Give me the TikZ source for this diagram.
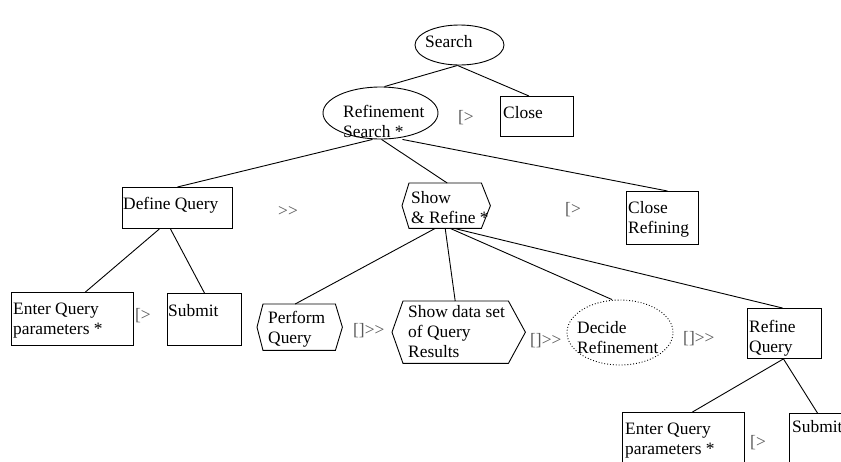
\documentclass[tikz,border=0pt]{standalone}
\usepackage{fontspec}
\setmainfont[Ligatures=TeXOff]{Liberation Serif}
\usetikzlibrary{shapes.geometric}
\tikzset{
  shp/.style={draw, line width=0.9pt},
  boxnode/.style={shp, rectangle, inner sep=0pt, anchor=north west},
  ellnode/.style={shp, ellipse, inner sep=0pt},
  hexnode/.style={rectangle, inner sep=0pt, anchor=north west},
  lbl/.style={inner sep=0pt, align=left, anchor=north west},
  lbl1/.style={inner sep=0pt, anchor=base west},
  opr/.style={inner sep=0pt, anchor=base west, text=black!65},
  conn/.style={line width=0.9pt},
}
\newcommand\hexdraw[3]{\draw[shp] ([xshift=#2]#1.north west) -- ([xshift=-#3]#1.north east) -- (#1.east) -- ([xshift=-#3]#1.south east) -- ([xshift=#2]#1.south west) -- (#1.west) -- cycle;}
\begin{document}
\begin{tikzpicture}[x=1pt, y=-1pt, font=\fontsize{17.4}{20}\selectfont]
\useasboundingbox (0,0) rectangle (841,461);
\fill[white] (0,0) rectangle (841,461);
\clip (0,0) rectangle (841,461);

% ellipses
\node[ellnode, minimum width=89pt, minimum height=40pt] (search) at (459.5,45) {};
\node[ellnode, minimum width=115pt, minimum height=52pt] (refine) at (380.5,113) {};
\node[ellnode, dotted, minimum width=106pt, minimum height=65pt] (decide) at (620,332.5) {};

% boxes
\node[boxnode, minimum width=73pt, minimum height=40pt] (close) at (500,96) {};
\node[boxnode, minimum width=110pt, minimum height=41pt] (defq) at (122,187) {};
\node[boxnode, minimum width=72pt, minimum height=53pt] (closeref) at (626,191) {};
\node[boxnode, minimum width=122pt, minimum height=53pt] (enter) at (11,292) {};
\node[boxnode, minimum width=74pt, minimum height=52pt] (submit) at (167,293) {};
\node[boxnode, minimum width=74pt, minimum height=50pt] (refineq) at (747,308) {};
\node[boxnode, minimum width=122pt, minimum height=60pt] (enter2) at (622,412) {};
\node[boxnode, minimum width=74pt, minimum height=60pt] (submit2) at (789,413) {};

% hexagons
\node[hexnode, minimum width=88pt, minimum height=45pt] (showref) at (402,183) {};
\node[hexnode, minimum width=85pt, minimum height=46pt] (perform) at (257,304) {};
\node[hexnode, minimum width=133pt, minimum height=62pt] (showdata) at (392,301) {};
\hexdraw{showref}{7}{9}
\hexdraw{perform}{6}{7}
\hexdraw{showdata}{11}{17}

% labels
\node[lbl1] (tsearch) at (425,47) {Search};
\node[lbl] (trefine) at (343,105.5) {Refinement\\Search *};
\node[lbl1] (tclose) at (503,118) {Close};
\node[lbl1] (tdefq) at (123,209) {Define Query};
\node[lbl] (tshowref) at (411,191) {Show\\\& Refine *};
\node[lbl] (tcloseref) at (628,201) {Close\\Refining};
\node[lbl] (tenter) at (13,303) {Enter Query\\parameters *};
\node[lbl1] (tsubmit) at (168,316) {Submit};
\node[lbl] (tperform) at (268,311) {Perform\\Query};
\node[lbl] (tshowdata) at (408,305) {Show data set\\of Query\\Results};
\node[lbl] (tdecide) at (577,321) {Decide\\Refinement};
\node[lbl] (trefineq) at (749,320) {Refine\\Query};
\node[lbl] (tenter2) at (625,423) {Enter Query\\parameters *};
\node[lbl1] (tsubmit2) at (792,432) {Submit};

% operators
\node[opr] (o1) at (458,122) {[>};
\node[opr] (o2) at (278,216) {>>};
\node[opr] (o3) at (565,214) {[>};
\node[opr] (o4) at (135,320) {[>};
\node[opr] (o5) at (353,335) {[]>>};
\node[opr] (o6) at (530,345) {[]>>};
\node[opr] (o7) at (683,343) {[]>>};
\node[opr] (o8) at (750,447) {[>};

% connectors
\draw[conn] ([xshift=-2]search.south) -- ([xshift=4]refine.north);
\draw[conn] ([xshift=-2]search.south) -- ([xshift=-8]close.north);
\draw[conn] ([xshift=-8]refine.south) -- (defq.north);
\draw[conn] ([xshift=1]refine.south) -- ([xshift=1]showref.north);
\draw[conn] ([xshift=22]refine.south) -- ([xshift=5]closeref.north);
\draw[conn] ([xshift=-18]defq.south) -- ([xshift=13]enter.north);
\draw[conn] ([xshift=-7]defq.south) -- (submit.north);
\draw[conn] ([xshift=-11]showref.south) -- ([xshift=-4.5]perform.north);
\draw[conn] ([xshift=-1]showref.south) -- ([xshift=-3.5]showdata.north);
\draw[conn] ([xshift=4]showref.south) -- ([xshift=-8]decide.north);
\draw[conn] ([xshift=8]showref.south) -- ([xshift=-2]refineq.north);
\draw[conn] ([xshift=-1]refineq.south) -- ([xshift=9]enter2.north);
\draw[conn] ([xshift=-1]refineq.south) -- ([xshift=-9]submit2.north);
\end{tikzpicture}
\end{document}
